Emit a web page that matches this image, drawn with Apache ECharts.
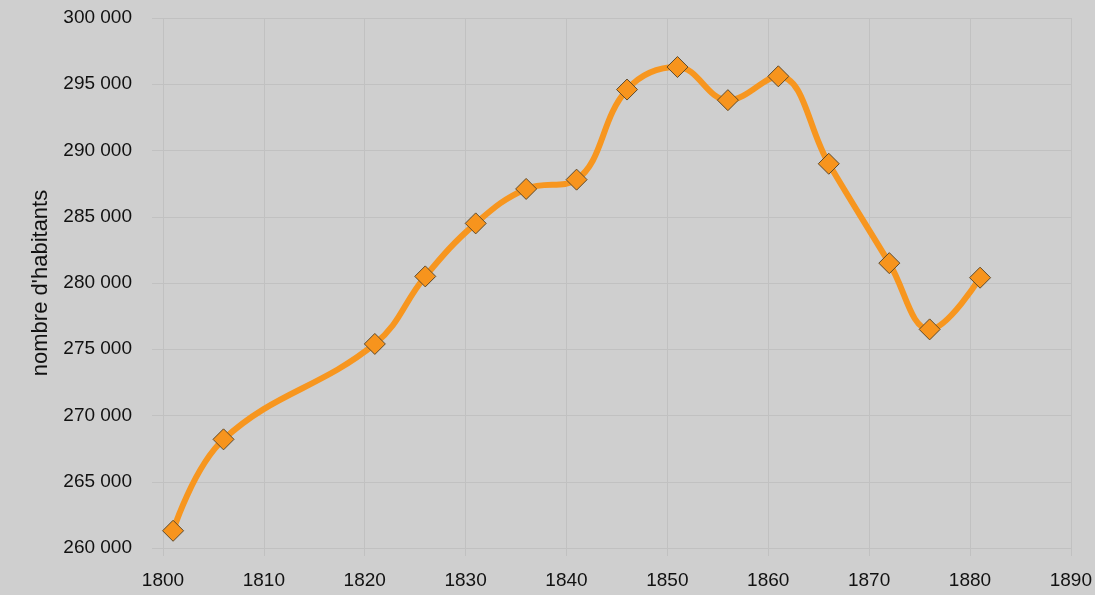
<!DOCTYPE html>
<html>
<head>
<meta charset="utf-8">
<script src="https://cdn.jsdelivr.net/npm/echarts@6/dist/echarts.min.js"></script>
<style>
  html, body { margin: 0; padding: 0; background: #cfcfcf; }
  #chart { width: 1095px; height: 595px; }
</style>
</head>
<body>
<div id="chart"></div>
<script>
// années des recensements
const years = [1801, 1806, 1821, 1826, 1831, 1836, 1841, 1846, 1851, 1856, 1861, 1866, 1872, 1876, 1881]
// nombre d'habitants
const population = [261300, 268200, 275400, 280500, 284500, 287100, 287800, 294600, 296300, 293800, 295600, 289000, 281500, 276500, 280400]

const gridColor = '#c1c1c1'
const fmt = (v) => String(v).replace(/\B(?=(\d{3})+(?!\d))/g, ' ')

const chart = echarts.init(document.getElementById('chart'))

const option = {
  backgroundColor: '#cfcfcf',
  animation: false,
  textStyle: { fontFamily: 'Liberation Sans, Arial, sans-serif' },
  grid: { left: 163, right: 24, top: 18, bottom: 47 },
  xAxis: {
    type: 'value',
    min: 1800,
    max: 1890,
    interval: 10,
    axisLine: { show: false },
    axisTick: { show: true, length: 8, lineStyle: { color: gridColor } },
    splitLine: { show: true, lineStyle: { color: gridColor, width: 1 } },
    axisLabel: { color: '#111', fontSize: 19, margin: 23, formatter: (v) => String(v) }
  },
  yAxis: {
    type: 'value',
    min: 260000,
    max: 300000,
    interval: 5000,
    name: "nombre d'habitants",
    nameLocation: 'middle',
    nameGap: 104,
    nameRotate: 90,
    nameTextStyle: { color: '#111', fontSize: 22 },
    axisLine: { show: false },
    axisTick: { show: true, length: 11, lineStyle: { color: gridColor } },
    splitLine: { show: true, lineStyle: { color: gridColor, width: 1 } },
    axisLabel: { color: '#111', fontSize: 19, margin: 31, formatter: fmt }
  },
  series: [
    {
      type: 'line',
      data: years.map((y, i) => [y, population[i]]),
      smooth: 0.4,
      symbol: 'diamond',
      symbolSize: 21,
      lineStyle: { color: '#f7961f', width: 6 },
      itemStyle: { color: '#f7941d', borderColor: '#5e4a2c', borderWidth: 1 }
    }
  ]
}

chart.setOption(option)
</script>
</body>
</html>
